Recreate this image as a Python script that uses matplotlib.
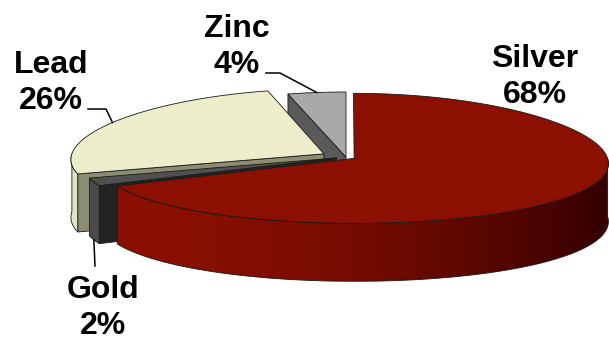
import numpy as np
import matplotlib.pyplot as plt
from matplotlib.patches import Polygon

# data
labels = ['Silver', 'Gold', 'Lead', 'Zinc']
shares = [68, 2, 26, 4]
pct_text = ['68%', '2%', '26%', '4%']
explode = [0.038, 0.04, 0.1, 0.0]

top_colors = ['#8B1000', '#505050', '#EEEDCB', '#A9A9A9']
wall_colors = [None, '#4A4A4A', '#E4E3C0', '#8A8A8A']
side_colors = ['#6A0C00', '#232323', '#8C8C72', '#5A5A5A']

# layout of the flattened pie (pixels)
CX, CY = 346, 157
RX, RY = 253, 65
DEPTH = 58
PERSP = 0.08
EDGE = '#1a1a1a'

# label baselines and leader elbows (pixels)
label_xy = [(535, 67), (103, 298), (51, 73), (237, 37)]
leader_start = [None, [(95, 266)], [(88, 109), (106, 109)], [(266, 73), (280, 73)]]
leader_z = [0, 1, 0, 0]


def project(x, y, z=0.0):
    x = np.asarray(x, float)
    y = np.asarray(y, float)
    sx = CX + RX * x * (1 - PERSP * y)
    sy = CY - RY * y + DEPTH * z
    return sx, sy


def rim(theta, off, z=0.0):
    t = np.radians(theta)
    return project(off[0] + np.cos(t), off[1] + np.sin(t), z)


def poly(ax, xs, ys, color, z, lw=0.6, ec=EDGE):
    p = Polygon(np.column_stack([xs, ys]), closed=True, facecolor=color,
                edgecolor=ec, linewidth=lw, joinstyle='round', zorder=z)
    ax.add_patch(p)
    return p


def main():
    fig = plt.figure(figsize=(6.09, 3.41), dpi=100)
    ax = fig.add_axes([0, 0, 1, 1])
    ax.set_xlim(0, 609)
    ax.set_ylim(341, 0)
    ax.axis('off')

    # angles, clockwise from 12 o'clock
    slices = []
    cum = 0
    for i, s in enumerate(shares):
        hi = 90 - 3.6 * cum
        lo = hi - 3.6 * s
        cum += s
        mid = (lo + hi) / 2
        m = np.radians(mid)
        off = (explode[i] * np.cos(m), explode[i] * np.sin(m))
        slices.append((i, lo, hi, mid, off))

    order = sorted(slices, key=lambda t: -np.sin(np.radians(t[3])))
    z = 1
    for i, lo, hi, mid, off in order:
        ax0, ay0 = project(off[0], off[1], 0)
        # radial side faces facing the viewer
        for ang, normal in ((lo, lo - 90), (hi, hi + 90)):
            if np.sin(np.radians(normal)) < -0.01:
                ex0, ey0 = rim(ang, off, 0)
                ex1, ey1 = rim(ang, off, 1)
                poly(ax, [ax0, ex0, ex1, ax0], [ay0, ey0, ey1, ay0 + DEPTH],
                     side_colors[i], z)
                z += 1
        # outer wall, front half only
        for k in (-1, 0, 1):
            a = max(lo, -180 + 360 * k)
            b = min(hi, 360 * k)
            if b <= a:
                continue
            th = np.linspace(a, b, 300)
            tx, ty = rim(th, off, 0)
            bx, by = rim(th, off, 1)
            xs = np.r_[tx, bx[::-1]]
            ys = np.r_[ty, by[::-1]]
            if wall_colors[i] is None:
                # shaded wall: light on the left, dark on the right
                wall = poly(ax, xs, ys, 'none', z + 1)
                light = np.array([139, 16, 0]) / 255
                dark = np.array([55, 0, 0]) / 255
                x0, x1 = xs.min(), xs.max()
                px = np.linspace(x0, x1, 400)
                t = np.clip(((px - CX) / RX + 1) / 2, 0, 1) ** 2
                grad = light[None, :] * (1 - t[:, None]) + dark[None, :] * t[:, None]
                im = ax.imshow(grad[None, :, :], aspect='auto',
                               extent=(x0, x1, ys.max(), ys.min()),
                               interpolation='bilinear', zorder=z)
                im.set_clip_path(wall)
                ax.set_xlim(0, 609)
                ax.set_ylim(341, 0)
            else:
                poly(ax, xs, ys, wall_colors[i], z)
            z += 2

    # top faces over everything
    z += 10
    for i, lo, hi, mid, off in slices:
        ax0, ay0 = project(off[0], off[1], 0)
        th = np.linspace(lo, hi, 300)
        tx, ty = rim(th, off, 0)
        poly(ax, np.r_[ax0, tx], np.r_[ay0, ty], top_colors[i], z)
        z += 1

    # labels and leader lines
    z += 10
    font = dict(family=['Liberation Sans', 'DejaVu Sans'], weight='bold',
                size=23, ha='center', va='baseline', color='black')
    for i, lo, hi, mid, off in slices:
        x, y = label_xy[i]
        ax.text(x, y, labels[i], zorder=z, **font)
        ax.text(x, y + 36, pct_text[i], zorder=z, **font)
        if leader_start[i] is not None:
            ex, ey = rim(mid, off, leader_z[i])
            px = [p[0] for p in leader_start[i]] + [float(ex)]
            py = [p[1] for p in leader_start[i]] + [float(ey)]
            ax.plot(px, py, color='black', lw=1.1, zorder=z)

    fig.savefig('out.png', dpi=100)


if __name__ == "__main__":
    main()
